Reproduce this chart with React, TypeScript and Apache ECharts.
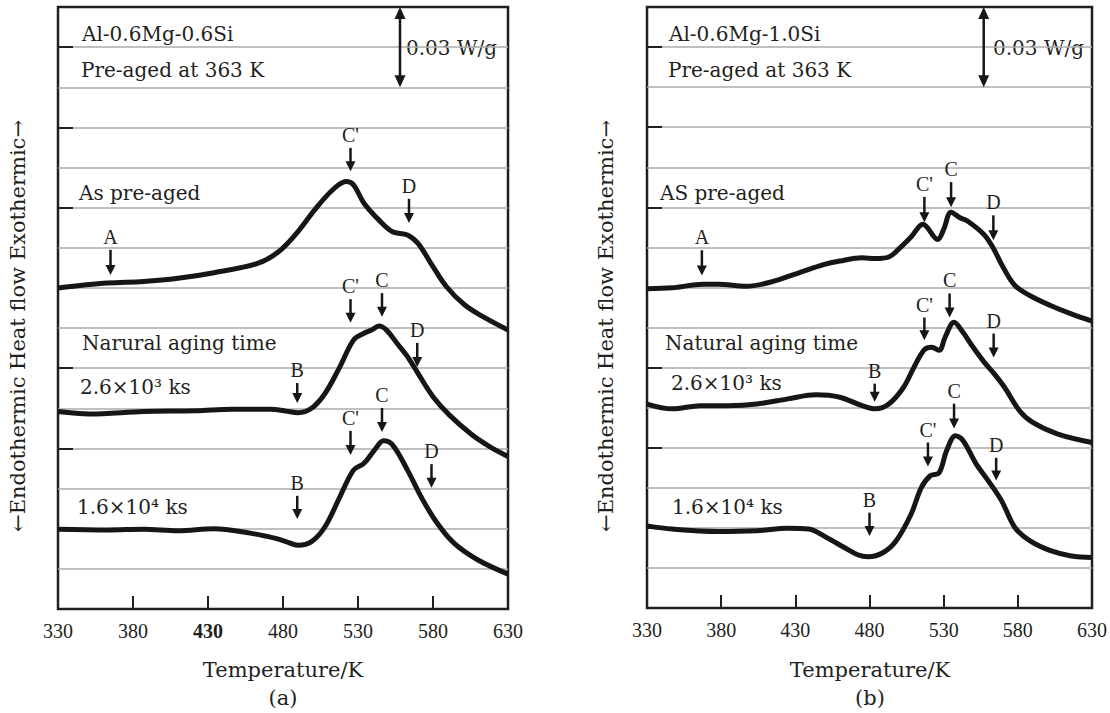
import React, { useEffect, useRef } from "react";
import * as echarts from "echarts";

// ---------- data (temperature K, heat flow in grid units: 0 bottom .. 15 top) ----------
const xTicks = [330, 380, 430, 480, 530, 580, 630];

// (a) Al-0.6Mg-0.6Si
const a1T = [330, 363, 387, 410, 434, 463, 477, 489, 501, 513, 522, 527, 534, 544, 553, 563, 570, 580, 589, 601, 613, 630];
const a1V = [8.0, 8.12, 8.16, 8.24, 8.38, 8.61, 8.9, 9.36, 9.94, 10.44, 10.65, 10.57, 10.11, 9.69, 9.4, 9.32, 9.11, 8.53, 8.03, 7.58, 7.29, 6.95];
const a2T = [330, 351, 387, 422, 446, 472, 482, 490, 499, 508, 518, 527, 534, 539, 544, 549, 556, 563, 570, 580, 591, 606, 618, 630];
const a2V = [4.92, 4.86, 4.92, 4.94, 4.98, 4.98, 4.93, 4.89, 5.0, 5.37, 6.04, 6.7, 6.87, 6.95, 7.05, 6.95, 6.62, 6.29, 5.87, 5.29, 4.83, 4.34, 4.04, 3.8];
const a3T = [330, 363, 387, 410, 434, 458, 475, 482, 490, 499, 508, 518, 527, 534, 541, 547, 553, 563, 572, 582, 594, 610, 630];
const a3V = [1.99, 1.97, 1.99, 1.95, 2.0, 1.89, 1.76, 1.68, 1.59, 1.68, 2.05, 2.8, 3.46, 3.63, 3.96, 4.19, 4.09, 3.46, 2.8, 2.18, 1.64, 1.22, 0.87];

// (b) Al-0.6Mg-1.0Si
const b1T = [330, 347, 368, 378, 397, 413, 432, 449, 460, 475, 484, 493, 500, 508, 516, 526, 530, 535, 541, 546, 557, 563, 570, 578, 588, 602, 616, 630];
const b1V = [7.97, 7.99, 8.08, 8.08, 8.03, 8.13, 8.36, 8.57, 8.66, 8.74, 8.72, 8.76, 8.97, 9.26, 9.58, 9.2, 9.45, 9.88, 9.74, 9.66, 9.33, 9.01, 8.51, 8.05, 7.8, 7.55, 7.34, 7.16];
const b2T = [330, 347, 366, 385, 404, 425, 444, 460, 475, 484, 493, 503, 510, 517, 522, 527, 531, 537, 543, 550, 557, 564, 571, 581, 590, 607, 630];
const b2V = [5.09, 4.97, 5.05, 5.05, 5.09, 5.22, 5.32, 5.26, 5.05, 4.97, 5.09, 5.51, 6.01, 6.45, 6.51, 6.43, 6.76, 7.13, 6.88, 6.5, 6.15, 5.85, 5.51, 4.93, 4.63, 4.34, 4.13];
const b3T = [330, 347, 378, 404, 425, 439, 451, 463, 472, 479, 489, 498, 508, 515, 521, 527, 532, 538, 543, 552, 560, 569, 578, 588, 602, 616, 630];
const b3V = [2.05, 1.97, 1.91, 1.93, 1.99, 1.97, 1.76, 1.51, 1.33, 1.28, 1.38, 1.68, 2.34, 3.01, 3.3, 3.38, 3.93, 4.3, 4.18, 3.59, 3.18, 2.68, 2.01, 1.68, 1.43, 1.3, 1.26];

// peak markers: label, temperature, arrow top, arrow tip
const aMarkLabel = ["A", "C'", "D", "C'", "C", "D", "B", "C'", "C", "D", "B"];
const aMarkT = [365, 525, 564, 525, 546, 569.5, 489.5, 525, 546, 579, 489.5];
const aMarkTop = [8.95, 11.49, 10.22, 7.72, 7.87, 6.63, 5.63, 4.44, 5.01, 3.61, 2.82];
const aMarkTip = [8.32, 10.91, 9.62, 7.13, 7.28, 6.03, 5.13, 3.84, 4.41, 3.02, 2.24];

const bMarkLabel = ["A", "C'", "C", "D", "C'", "C", "D", "B", "C'", "C", "D", "B"];
const bMarkT = [367, 517, 535, 563.5, 517, 534, 563.7, 483.5, 519.4, 537, 565.4, 480];
const bMarkTop = [8.93, 10.26, 10.63, 9.8, 7.25, 7.85, 6.85, 5.6, 4.13, 5.1, 3.75, 2.38];
const bMarkTip = [8.3, 9.63, 10.0, 9.18, 6.68, 7.25, 6.25, 5.15, 3.53, 4.48, 3.18, 1.8];

// 0.03 W/g scale bar: temperature, from, to
const aScale = [558, 15, 13];
const bScale = [557, 15, 13];

const INK = "#231f20";
const LINE = "#161616";
const SERIF = "DejaVu Serif";
const TIMES = "Liberation Serif";

const zip = (t: number[], v: number[]) => t.map((x, i) => [x, v[i]]);

function markRender(labels: string[]) {
  return (params: any, api: any) => {
    const p1 = api.coord([api.value(0), api.value(1)]);
    const p2 = api.coord([api.value(0), api.value(2)]);
    const x = p1[0];
    return {
      type: "group",
      children: [
        { type: "line", shape: { x1: x, y1: p1[1], x2: x, y2: p2[1] - 8 }, style: { stroke: LINE, lineWidth: 2.5 } },
        { type: "polygon", shape: { points: [[x - 5, p2[1] - 10], [x + 5, p2[1] - 10], [x, p2[1]]] }, style: { fill: LINE } },
        {
          type: "text",
          x: x,
          y: p1[1] - 13,
          style: {
            text: labels[params.dataIndex],
            fontFamily: TIMES,
            fontSize: 20,
            fill: INK,
            align: "center",
            verticalAlign: "middle",
            textAlign: "center",
            textVerticalAlign: "middle",
          },
        },
      ],
    };
  };
}

function scaleRender(params: any, api: any) {
  const p1 = api.coord([api.value(0), api.value(1)]);
  const p2 = api.coord([api.value(0), api.value(2)]);
  const x = p1[0];
  return {
    type: "group",
    children: [
      { type: "line", shape: { x1: x, y1: p1[1] + 8, x2: x, y2: p2[1] - 8 }, style: { stroke: LINE, lineWidth: 2.5 } },
      { type: "polygon", shape: { points: [[x - 5.5, p1[1] + 12], [x + 5.5, p1[1] + 12], [x, p1[1]]] }, style: { fill: LINE } },
      { type: "polygon", shape: { points: [[x - 5.5, p2[1] - 12], [x + 5.5, p2[1] - 12], [x, p2[1]]] }, style: { fill: LINE } },
    ],
  };
}

function txt(x: number, y: number, text: string, opts: any = {}) {
  return {
    type: "text",
    x,
    y,
    rotation: opts.rotation || 0,
    style: {
      text,
      fontFamily: opts.family || SERIF,
      fontSize: opts.size || 20,
      fontWeight: opts.weight || "normal",
      fill: INK,
      align: opts.align || "left",
      verticalAlign: "middle",
      textAlign: opts.align || "left",
      textVerticalAlign: "middle",
    },
  };
}

function xAxisFor(gridIndex: number, boldValue: number | null) {
  return {
    gridIndex,
    type: "value",
    min: 330,
    max: 630,
    interval: 50,
    axisLine: { show: false },
    axisTick: { show: true, inside: true, length: 13, lineStyle: { color: INK, width: 2 } },
    splitLine: { show: false },
    axisLabel: {
      margin: 12,
      fontFamily: TIMES,
      fontSize: 20,
      color: INK,
      formatter: (v: number) => (v === boldValue ? "{b|" + v + "}" : xTicks.includes(v) ? String(v) : ""),
      rich: { b: { fontFamily: TIMES, fontSize: 20, fontWeight: "bold", color: INK } },
    },
  };
}

function yAxesFor(gridIndex: number) {
  return [
    {
      gridIndex,
      type: "value",
      min: 0,
      max: 15,
      interval: 1,
      axisLine: { show: false },
      axisTick: { show: false },
      axisLabel: { show: false },
      splitLine: { show: true, showMinLine: false, showMaxLine: false, lineStyle: { color: "#ababab", width: 1.6 } },
    },
    {
      gridIndex,
      type: "value",
      position: "left",
      min: 0,
      max: 15,
      interval: 2,
      axisLine: { show: false },
      axisTick: { show: true, inside: true, length: 15, lineStyle: { color: INK, width: 2 } },
      axisLabel: { show: false },
      splitLine: { show: false },
    },
  ];
}

function lineSeries(xi: number, yi: number, t: number[], v: number[]) {
  return {
    type: "line",
    xAxisIndex: xi,
    yAxisIndex: yi,
    data: zip(t, v),
    smooth: 0.35,
    symbol: "none",
    lineStyle: { color: LINE, width: 5 },
    z: 5,
  };
}

export default function App() {
  const ref = useRef<HTMLDivElement>(null);
  useEffect(() => {
    if (!ref.current) return;
    const chart = echarts.init(ref.current, null, { renderer: "svg" });
    const yTitle = "\u2190Endothermic Heat flow Exothermic\u2192";
    chart.setOption({
      animation: false,
      backgroundColor: "#ffffff",
      grid: [
        { left: 58, top: 7, width: 450, height: 602, show: true, borderColor: INK, borderWidth: 2.5, backgroundColor: "transparent" },
        { left: 647, top: 7, width: 445, height: 601, show: true, borderColor: INK, borderWidth: 2.5, backgroundColor: "transparent" },
      ],
      xAxis: [xAxisFor(0, 430), xAxisFor(1, null)],
      yAxis: [...yAxesFor(0), ...yAxesFor(1)],
      series: [
        lineSeries(0, 0, a1T, a1V),
        lineSeries(0, 0, a2T, a2V),
        lineSeries(0, 0, a3T, a3V),
        lineSeries(1, 2, b1T, b1V),
        lineSeries(1, 2, b2T, b2V),
        lineSeries(1, 2, b3T, b3V),
        {
          type: "custom",
          xAxisIndex: 0,
          yAxisIndex: 0,
          renderItem: markRender(aMarkLabel),
          data: aMarkT.map((t, i) => [t, aMarkTop[i], aMarkTip[i]]),
          z: 6,
        },
        {
          type: "custom",
          xAxisIndex: 1,
          yAxisIndex: 2,
          renderItem: markRender(bMarkLabel),
          data: bMarkT.map((t, i) => [t, bMarkTop[i], bMarkTip[i]]),
          z: 6,
        },
        { type: "custom", xAxisIndex: 0, yAxisIndex: 0, renderItem: scaleRender, data: [aScale], z: 6 },
        { type: "custom", xAxisIndex: 1, yAxisIndex: 2, renderItem: scaleRender, data: [bScale], z: 6 },
      ],
      graphic: [
        // panel (a)
        txt(82, 34, "Al-0.6Mg-0.6Si"),
        txt(81, 70, "Pre-aged at 363 K"),
        txt(406, 48, "0.03 W/g"),
        txt(79, 193, "As pre-aged"),
        txt(82, 343, "Narural aging time"),
        txt(80, 387, "2.6\u00d710\u00b3 ks"),
        txt(77, 507, "1.6\u00d710\u2074 ks"),
        txt(283, 670, "Temperature/K", { align: "center", size: 21 }),
        txt(283, 698, "(a)", { align: "center", size: 21 }),
        txt(18, 326, yTitle, { align: "center", size: 21, rotation: Math.PI / 2 }),
        // panel (b)
        txt(669, 34, "Al-0.6Mg-1.0Si"),
        txt(668, 70, "Pre-aged at 363 K"),
        txt(993, 48, "0.03 W/g"),
        txt(660, 193, "AS pre-aged"),
        txt(665, 343, "Natural aging time"),
        txt(671, 383, "2.6\u00d710\u00b3 ks"),
        txt(672, 507, "1.6\u00d710\u2074 ks"),
        txt(870, 670, "Temperature/K", { align: "center", size: 21 }),
        txt(870, 698, "(b)", { align: "center", size: 21 }),
        txt(606, 326, yTitle, { align: "center", size: 21, rotation: Math.PI / 2 }),
      ],
    });
    return () => chart.dispose();
  }, []);
  return (
    <div
      ref={ref}
      style={{ position: "absolute", left: 0, top: 0, width: 1110, height: 713 }}
    />
  );
}
